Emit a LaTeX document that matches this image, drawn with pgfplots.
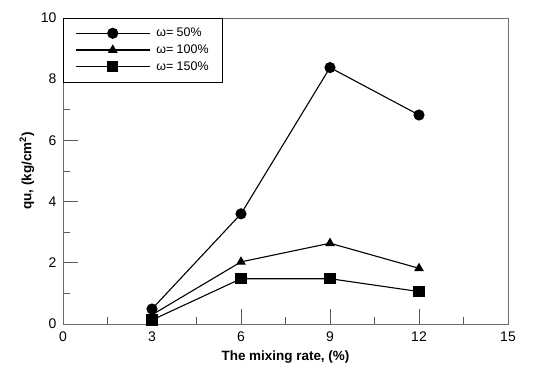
\documentclass[border=0pt]{standalone}
\usepackage{fontspec}
\setmainfont{Liberation Sans}
\usepackage{pgfplots}
\pgfplotsset{compat=1.18}
\begin{document}
\begin{tikzpicture}[x=1bp,y=1bp]
\begin{axis}[
  scale only axis,
  width=445bp, height=306bp,
  xmin=0, xmax=15, ymin=0, ymax=10,
  xtick={0,3,6,9,12,15}, ytick={0,2,4,6,8,10},
  minor x tick num=1, minor y tick num=1,
  tick pos=left, tick align=inside,
  major tick length=15bp, minor tick length=7bp,
  axis line style={gray!85!black, line width=0.9bp},
  every tick/.style={gray!70!black, line width=0.9bp},
  tick label style={font=\fontsize{14}{16}\selectfont},
  xticklabel style={yshift=-4bp},
  yticklabel style={xshift=-3bp},
  /pgf/number format/assume math mode=true,
  xlabel={\textbf{The mixing rate, (\%)}},
  ylabel={\textbf{qu, (kg/cm\textsuperscript{2})}},
  label style={font=\fontsize{13.5}{15}\selectfont},
  xlabel style={yshift=-3bp},
  ylabel style={yshift=0bp},
  legend style={at={(0,1)}, anchor=north west, draw=black, font=\fontsize{12.5}{14}\selectfont,
    row sep=2.5bp, inner xsep=12bp, inner ysep=8bp},
  legend cell align=left,
  legend image code/.code={\draw[#1] (0bp,0bp) -- (74bp,0bp); \draw[#1,only marks] plot coordinates {(37bp,0bp)}; \path (78bp,0bp);},
]
\addplot[black, line width=1.1bp, mark=*, mark size=5bp] coordinates {(3,0.49) (6,3.6) (9,8.38) (12,6.83)};
\addlegendentry{ω= 50\%}
\addplot[black, line width=1.1bp, mark=triangle*, mark size=4.5bp] coordinates {(3,0.3) (6,2.03) (9,2.64) (12,1.82)};
\addlegendentry{ω= 100\%}
\addplot[black, line width=1.1bp, mark=square*, mark size=5bp] coordinates {(3,0.13) (6,1.48) (9,1.48) (12,1.06)};
\addlegendentry{ω= 150\%}
\end{axis}
\useasboundingbox (current axis.south west) ++(-63bp,-46bp) rectangle ([xshift=32bp,yshift=18bp]current axis.north east);
\end{tikzpicture}
\end{document}
